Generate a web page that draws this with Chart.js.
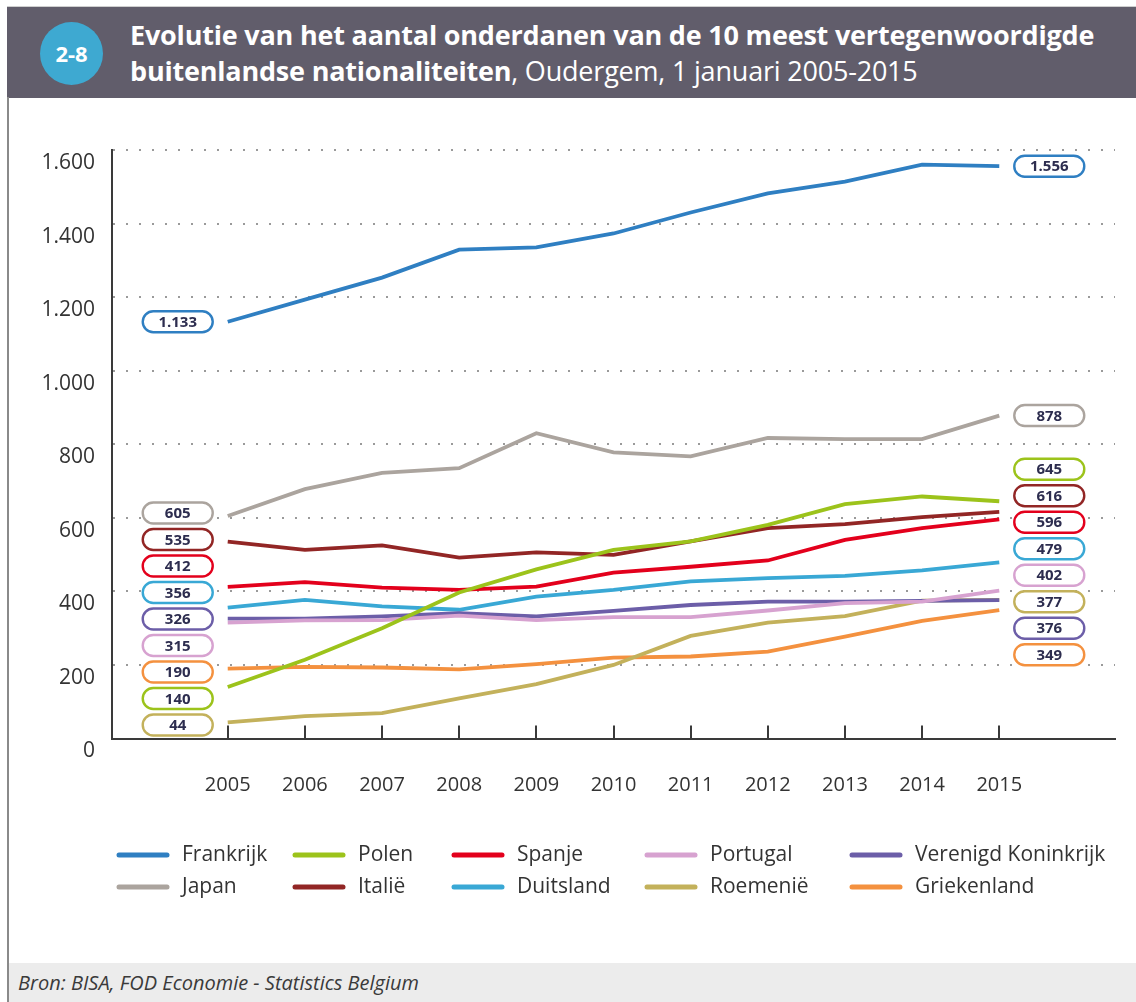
<!DOCTYPE html>
<html>
<head>
<meta charset="utf-8">
<script src="https://cdn.jsdelivr.net/npm/chart.js@4.4.1/dist/chart.umd.min.js"></script>
<style>
body { margin: 0; background: #fff; font-family: "Open Sans", sans-serif; }
#wrap { position: relative; width: 1136px; height: 1002px; overflow: hidden; }
#c { position: absolute; left: 0; top: 0; }
#hdr { position: absolute; left: 7px; top: 6px; width: 1129px; height: 91px; background: #615d6b; border-top: 1px solid #cfcfcf; }
#badge { position: absolute; left: 33px; top: 15px; width: 63px; height: 63px; border-radius: 50%; background: #3ea9d1;
  color: #fff; font-weight: 700; font-size: 22px; line-height: 63px; text-align: center; }
#title { position: absolute; left: 123px; top: 10px; color: #fff; font-size: 27px; line-height: 36px; white-space: nowrap; letter-spacing: -0.2px; }
#side { position: absolute; left: 7px; top: 97px; width: 2px; height: 905px; background: #8a8a8a; }
#foot { position: absolute; left: 9px; top: 963px; width: 1127px; height: 39px; background: #ececec;
  font-style: italic; font-size: 20px; color: #3a3a3a; line-height: 39px; padding-left: 9px; box-sizing: border-box; }
</style>
</head>
<body>
<div id="wrap">
  <canvas id="c" width="1136" height="1002"></canvas>
  <div id="hdr">
    <div id="badge">2-8</div>
    <div id="title"><b>Evolutie van het aantal onderdanen van de 10 meest vertegenwoordigde</b><br><b>buitenlandse nationaliteiten</b>, Oudergem, 1 januari 2005-2015</div>
  </div>
  <div id="side"></div>
  <div id="foot">Bron: BISA, FOD Economie - Statistics Belgium</div>
</div>
<script>
// jaren (1 januari)
const years = [2005, 2006, 2007, 2008, 2009, 2010, 2011, 2012, 2013, 2014, 2015];
const yTicks = [0, 200, 400, 600, 800, 1000, 1200, 1400, 1600];

// aantal onderdanen per nationaliteit
const frankrijk   = [1133, 1193, 1253, 1329, 1335, 1373, 1430, 1482, 1514, 1560, 1556];
const polen       = [140, 214, 300, 397, 460, 513, 536, 581, 637, 658, 645];
const spanje      = [412, 425, 410, 404, 413, 451, 467, 484, 540, 572, 596];
const portugal    = [315, 321, 322, 334, 322, 330, 330, 348, 368, 372, 402];
const verenigdK   = [326, 326, 332, 341, 332, 347, 363, 372, 372, 374, 376];
const japan       = [605, 678, 722, 735, 830, 778, 767, 817, 814, 814, 878];
const italie      = [535, 513, 525, 492, 506, 499, 536, 572, 583, 602, 616];
const duitsland   = [356, 377, 359, 350, 386, 404, 427, 436, 442, 457, 479];
const roemenie    = [44, 61, 69, 109, 148, 200, 279, 315, 333, 375, 377];
const griekenland = [190, 195, 193, 188, 202, 220, 223, 236, 277, 320, 349];

const names  = ["Frankrijk", "Polen", "Spanje", "Portugal", "Verenigd Koninkrijk",
                "Japan", "Italië", "Duitsland", "Roemenië", "Griekenland"];
const series = [frankrijk, polen, spanje, portugal, verenigdK, japan, italie, duitsland, roemenie, griekenland];
const colors = ["#2f7fc2", "#9cc31b", "#e3001c", "#d7a2d0", "#6c5ea8",
                "#aba49e", "#922625", "#39a8d5", "#c3b15b", "#f4913f"];

function fmt(v) {
  // Belgische notatie: 1.600
  if (v >= 1000) return Math.floor(v / 1000) + "." + String(v % 1000).padStart(3, "0");
  return String(v);
}

// labels die overlappen schuiven uit elkaar, gecentreerd op hun gemiddelde
function spread(ps, s) {
  let cl = ps.map(p => ({ ps: [p], c: p }));
  let merged = true;
  while (merged) {
    merged = false;
    for (let i = 0; i < cl.length - 1; i++) {
      const a = cl[i], b = cl[i + 1];
      const aEnd = a.c + (a.ps.length - 1) * s / 2;
      const bStart = b.c - (b.ps.length - 1) * s / 2;
      if (bStart - aEnd < s) {
        const all = a.ps.concat(b.ps);
        cl.splice(i, 2, { ps: all, c: all.reduce((t, p) => t + p, 0) / all.length });
        merged = true;
        break;
      }
    }
  }
  const out = [];
  cl.forEach(k => k.ps.forEach((p, j) => out.push(k.c + (j - (k.ps.length - 1) / 2) * s)));
  return out;
}

function pill(ctx, cx, cy, txt, col) {
  const w = 70, h = 21, r = h / 2;
  ctx.beginPath();
  ctx.moveTo(cx - w / 2 + r, cy - r);
  ctx.lineTo(cx + w / 2 - r, cy - r);
  ctx.arc(cx + w / 2 - r, cy, r, -Math.PI / 2, Math.PI / 2);
  ctx.lineTo(cx - w / 2 + r, cy + r);
  ctx.arc(cx - w / 2 + r, cy, r, Math.PI / 2, Math.PI * 1.5);
  ctx.closePath();
  ctx.fillStyle = "#fff";
  ctx.fill();
  ctx.lineWidth = 2.4;
  ctx.strokeStyle = col;
  ctx.stroke();
  ctx.fillStyle = "#2d2d4f";
  ctx.font = "bold 15px 'Open Sans'";
  ctx.textAlign = "center";
  ctx.textBaseline = "middle";
  ctx.fillText(txt, cx, cy + 1);
}

const innerTicks = {
  id: "innerTicks",
  beforeDatasetsDraw(chart) {
    const ctx = chart.ctx, xS = chart.scales.x, bottom = chart.chartArea.bottom;
    ctx.save();
    ctx.strokeStyle = "#3a3a3a";
    ctx.lineWidth = 2;
    years.forEach(y => {
      const x = Math.round(xS.getPixelForValue(y));
      ctx.beginPath();
      ctx.moveTo(x, bottom);
      ctx.lineTo(x, bottom - 13);
      ctx.stroke();
    });
    ctx.restore();
  }
};

const endLabels = {
  id: "endLabels",
  afterDatasetsDraw(chart) {
    const ctx = chart.ctx, xS = chart.scales.x, yS = chart.scales.y;
    ctx.save();
    [[0, -50], [years.length - 1, 50]].forEach(([idx, dx]) => {
      const items = chart.data.datasets.map(ds => ({
        v: ds.data[idx].y, c: ds.borderColor, p: yS.getPixelForValue(ds.data[idx].y)
      }));
      items.sort((a, b) => a.p - b.p);
      const slots = spread(items.map(i => i.p), 26.5);
      const cx = xS.getPixelForValue(years[idx]) + dx;
      items.forEach((it, k) => pill(ctx, cx, slots[k], fmt(it.v), it.c));
    });
    ctx.restore();
  }
};

const legendCols = [117, 293, 452, 645, 850];
const legendRows = [855, 887];
const ownLegend = {
  id: "ownLegend",
  afterDraw(chart) {
    const ctx = chart.ctx;
    ctx.save();
    chart.data.datasets.forEach((ds, i) => {
      const x = legendCols[i % 5], y = legendRows[Math.floor(i / 5)];
      ctx.strokeStyle = ds.borderColor;
      ctx.lineWidth = 5;
      ctx.lineCap = "round";
      ctx.beginPath();
      ctx.moveTo(x + 2, y);
      ctx.lineTo(x + 50, y);
      ctx.stroke();
      ctx.fillStyle = "#333";
      ctx.font = "21px 'Open Sans'";
      ctx.textAlign = "left";
      ctx.textBaseline = "middle";
      ctx.fillText(ds.label, x + 65, y);
    });
    ctx.restore();
  }
};

const datasets = names.map((n, i) => ({
  label: n,
  data: years.map((y, k) => ({ x: y, y: series[i][k] })),
  borderColor: colors[i],
  backgroundColor: colors[i],
  borderWidth: 3.8,
  pointRadius: 0,
  tension: 0,
  fill: false
}));

new Chart(document.getElementById("c").getContext("2d"), {
  type: "line",
  data: { datasets: datasets },
  options: {
    responsive: false,
    devicePixelRatio: 1,
    animation: false,
    layout: { padding: { top: 150, right: 21, left: 0, bottom: 203.5 } },
    plugins: { legend: { display: false }, tooltip: { enabled: false } },
    scales: {
      x: {
        type: "linear",
        min: 2003.5,
        max: 2016.5,
        afterBuildTicks: s => { s.ticks = years.map(v => ({ value: v })); },
        afterFit: s => { s.height = 60; },
        grid: { display: false },
        border: { display: true, color: "#3a3a3a", width: 2 },
        ticks: {
          callback: v => String(v),
          font: { family: "Open Sans", size: 20 },
          color: "#333",
          padding: 27,
          maxRotation: 0,
          autoSkip: false
        }
      },
      y: {
        min: 0,
        max: 1600,
        afterBuildTicks: s => { s.ticks = yTicks.map(v => ({ value: v })); },
        afterFit: s => { s.width = 112; },
        grid: { color: "#9a9a9a", lineWidth: 2, drawTicks: false },
        border: { display: true, color: "#3a3a3a", width: 2, dash: [2, 11] },
        ticks: {
          callback: v => fmt(v),
          font: { family: "Open Sans", size: 21 },
          color: "#333",
          padding: 17,
          labelOffset: 13
        }
      }
    }
  },
  plugins: [innerTicks, endLabels, ownLegend]
});
</script>
</body>
</html>
